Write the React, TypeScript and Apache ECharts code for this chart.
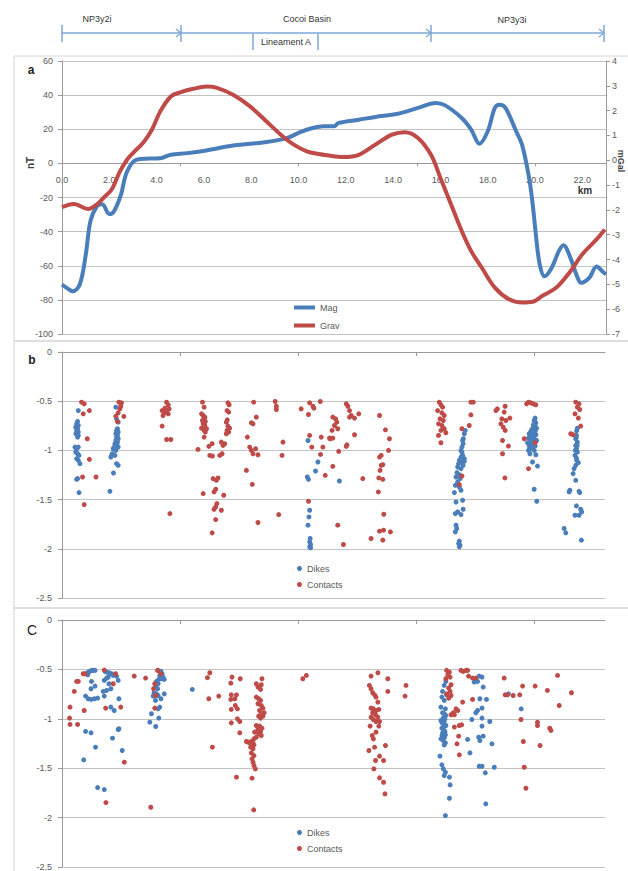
import React, { useEffect, useRef } from "react";
import * as echarts from "echarts";

// ---------- Panel a: profiles ----------
const magKm = [0, 0.2, 0.45, 0.75, 1.0, 1.2, 1.48, 1.7, 2.0, 2.2, 2.5, 2.7, 3.0, 3.3, 4.15, 4.6, 5.3, 6.1, 7.25, 8.65, 9.5, 10.1, 10.6, 11.05, 11.5, 11.7, 12.55, 13.25, 14.2, 15.05, 15.8, 16.2, 16.9, 17.3, 17.65, 18.0, 18.3, 18.5, 18.75, 19.2, 19.45, 19.75, 19.9, 20.05, 20.2, 20.4, 20.7, 21.0, 21.2, 21.5, 21.75, 21.95, 22.3, 22.6, 22.9, 23.0];
const magNT = [-71, -73, -75, -71, -54, -34, -25, -24, -29.7, -28, -18, -6.6, 0.8, 2.6, 3, 5.1, 6, 7.6, 10.5, 12.5, 14.8, 18.4, 20.7, 21.7, 21.7, 23.7, 25.6, 27.2, 29.1, 32.5, 35.4, 34, 26.6, 19.8, 11.5, 18.8, 32.5, 34.4, 32.5, 18.8, 11, -8.6, -24, -43.7, -59.4, -66.2, -61.3, -51.6, -48, -55.5, -65.2, -70, -67, -60.4, -64, -65];
const gravKm = [0, 0.5, 1.1, 1.5, 1.76, 2.1, 2.45, 2.75, 3.0, 3.45, 3.8, 4.15, 4.6, 5.0, 5.55, 6.1, 6.55, 7.25, 7.95, 8.65, 9.25, 9.8, 10.35, 10.85, 11.2, 11.9, 12.55, 13.25, 13.95, 14.5, 15.05, 15.6, 16.0, 16.45, 16.9, 17.3, 17.75, 18.3, 18.9, 19.45, 19.9, 20.3, 20.9, 21.45, 22.0, 22.6, 22.95];
const gravMGal = [-1.89, -1.76, -1.96, -1.76, -1.51, -1.18, -0.45, 0.02, 0.29, 0.73, 1.23, 1.96, 2.57, 2.74, 2.88, 2.97, 2.92, 2.63, 2.17, 1.56, 1.03, 0.63, 0.36, 0.25, 0.2, 0.13, 0.22, 0.63, 1.03, 1.13, 0.9, 0.22, -0.71, -1.78, -2.85, -3.66, -4.33, -5.13, -5.6, -5.73, -5.7, -5.47, -5.13, -4.53, -3.79, -3.19, -2.79];

const kmLabelsA = [0, 2, 4, 6, 8, 10, 12, 14, 16, 18, 20, 22];
const kmTicks = [0, 5, 10, 15, 20];

// ---------- Panel b: depth solutions ----------
const bDikes = [
  [0.69,-0.595],[0.66,-0.706],[0.62,-0.73],[0.69,-0.747],[0.58,-0.764],[0.66,-0.78],[0.62,-0.797],[0.69,-0.814],[0.59,-0.831],[0.69,-0.848],[0.66,-0.865],[0.55,-0.966],[0.62,-0.983],[0.69,-0.966],[0.58,-1.017],[0.66,-1.034],[0.72,-1.051],[0.62,-1.084],[0.69,-1.101],[0.76,-1.135],[0.66,-1.287],[0.62,-1.294],[0.72,-1.429],
  [2.28,-0.561],[2.31,-0.679],[2.38,-0.713],[2.35,-0.78],[2.31,-0.797],[2.38,-0.814],[2.28,-0.831],[2.35,-0.848],[2.31,-0.865],[2.38,-0.882],[2.28,-0.899],[2.35,-0.916],[2.24,-0.932],[2.33,-0.949],[2.21,-0.966],[2.38,-0.966],[2.17,-0.983],[2.28,-1.0],[2.13,-1.034],[2.24,-1.051],[2.07,-1.068],[2.31,-1.135],[2.38,-1.152],[2.18,-1.23],[2.03,-1.416],[2.1,-1.051],
  [10.42,-0.899],[10.84,-1.118],[10.74,-1.209],[10.39,-1.27],[10.44,-1.294],[10.49,-1.608],[10.46,-1.676],[10.42,-1.76],[10.51,-1.895],[10.49,-1.929],[10.53,-1.956],[10.49,-1.98],[10.53,-1.99],[11.75,-1.311],
  [17.08,-0.797],[17.04,-0.831],[16.97,-0.899],[16.99,-0.932],[16.94,-0.966],[16.9,-1.0],[16.97,-1.051],[16.9,-1.068],[17.04,-1.084],[16.83,-1.101],[16.94,-1.118],[16.8,-1.135],[16.99,-1.152],[16.76,-1.169],[16.9,-1.186],[16.73,-1.226],[16.83,-1.247],[16.69,-1.27],[16.86,-1.287],[16.76,-1.321],[16.66,-1.355],[16.83,-1.372],[16.9,-1.405],[16.62,-1.429],[16.97,-1.507],[16.69,-1.524],[16.99,-1.598],[16.76,-1.625],[16.66,-1.642],[16.9,-1.652],[16.69,-1.76],[16.72,-1.794],[16.66,-1.828],[16.83,-1.922],[16.8,-1.946],[16.86,-1.963],[16.83,-1.98],[17.0,-0.882],[16.94,-1.017],[17.04,-1.111],
  [20.04,-0.672],[20.0,-0.696],[20.07,-0.72],[19.96,-0.74],[20.04,-0.753],[19.93,-0.78],[20.1,-0.774],[19.86,-0.807],[20.0,-0.814],[19.79,-0.831],[20.07,-0.841],[19.9,-0.855],[19.76,-0.875],[20.0,-0.882],[19.86,-0.899],[20.1,-0.899],[19.72,-0.922],[19.96,-0.932],[19.79,-0.949],[20.04,-0.956],[19.86,-0.976],[19.76,-1.0],[20.0,-1.0],[19.82,-1.034],[20.07,-1.044],[19.93,-1.118],[20.14,-1.159],[20.0,-1.395],[20.11,-1.517],[20.02,-0.7],[19.98,-0.76],[19.9,-0.79],[20.05,-0.8],[19.95,-0.86],[19.85,-0.92],[19.92,-0.96],[19.8,-0.98],
  [21.83,-0.774],[21.79,-0.848],[21.76,-0.882],[21.83,-0.916],[21.76,-0.949],[21.79,-0.983],[21.83,-1.017],[21.73,-1.051],[21.79,-1.078],[21.87,-1.125],[21.76,-1.152],[21.69,-1.186],[21.65,-1.236],[21.76,-1.304],[21.51,-1.405],[21.48,-1.422],[21.9,-1.416],[21.93,-1.429],[21.79,-1.564],[21.97,-1.598],[21.73,-1.659],[21.9,-1.659],[22.01,-1.625],[21.27,-1.794],[21.34,-1.838],[22.0,-1.912],[21.8,-0.8],[21.78,-0.87],[21.82,-0.95],[21.74,-1.0],[21.8,-1.1]
];
const bContacts = [
  [0.83,-0.51],[0.94,-0.527],[0.9,-0.628],[1.16,-0.595],[1.07,-0.882],[1.16,-1.091],[0.87,-1.27],[1.44,-1.27],[0.94,-1.551],
  [2.41,-0.51],[2.52,-0.517],[2.49,-0.551],[2.45,-0.578],[2.38,-0.618],[2.62,-0.655],[2.28,-0.652],[2.35,-0.706],
  [4.43,-0.51],[4.5,-0.537],[4.36,-0.571],[4.54,-0.578],[4.24,-0.595],[4.43,-0.605],[4.33,-0.618],[4.5,-0.628],[4.28,-0.645],[4.24,-0.753],[4.43,-0.889],[4.61,-0.889],[4.57,-1.642],
  [5.95,-0.51],[6.02,-0.561],[5.91,-0.628],[5.98,-0.645],[6.05,-0.662],[6.02,-0.679],[5.95,-0.696],[6.07,-0.706],[5.98,-0.73],[6.05,-0.747],[5.91,-0.774],[6.12,-0.78],[6.02,-0.797],[6.07,-0.814],[6.02,-0.865],[5.76,-0.99],[6.22,-0.959],[6.36,-0.932],[6.26,-1.051],[6.37,-1.057],[6.68,-1.051],[6.78,-1.034],[6.82,-0.949],[6.89,-0.932],[6.75,-0.916],[6.4,-1.287],[6.54,-1.304],[6.61,-1.28],[6.51,-1.395],[6.44,-1.422],[5.98,-1.439],[6.85,-1.456],[6.56,-1.541],[6.51,-1.574],[6.44,-1.598],[6.75,-1.608],[6.51,-1.703],[6.36,-1.838],
  [7.03,-0.517],[7.08,-0.537],[6.99,-0.595],[7.06,-0.611],[7.0,-0.689],[6.96,-0.713],[7.03,-0.753],[7.1,-0.774],[6.99,-0.797],[7.06,-0.814],[6.96,-0.831],
  [8.12,-0.51],[8.23,-0.662],[8.02,-0.72],[8.09,-0.73],[7.85,-0.865],[7.95,-0.966],[8.02,-1.0],[8.2,-0.983],[8.09,-1.034],[8.3,-1.044],[7.81,-1.203],[8.06,-1.345],[8.3,-1.733],
  [9.03,-0.503],[9.08,-0.551],[9.08,-0.584],[9.36,-0.916],[9.32,-1.051],[9.18,-1.652],
  [10.13,-0.578],[10.49,-0.517],[10.63,-0.551],[10.67,-0.571],[10.94,-0.503],[10.44,-0.635],[10.49,-0.848],[10.98,-0.865],[10.58,-0.966],[11.05,-0.966],[10.95,-1.041],[11.33,-0.875],[11.15,-1.253],[10.44,-1.517],
  [11.47,-0.662],[11.59,-0.679],[11.64,-0.713],[11.54,-0.747],[11.44,-0.797],[11.68,-0.78],[11.36,-0.882],[11.47,-0.875],[12.04,-0.527],[12.11,-0.551],[12.18,-0.595],[12.25,-0.645],[12.18,-0.662],[12.39,-0.672],[12.57,-0.628],[12.39,-0.841],[12.07,-0.943],[12.04,-0.959],[11.72,-1.01],[11.47,-1.162],[12.74,-1.287],[11.68,-1.76],[11.92,-1.956],
  [13.45,-0.645],[13.7,-0.791],[13.87,-0.882],[13.83,-1.0],[13.52,-1.051],[13.45,-1.068],[13.59,-1.145],[13.52,-1.152],[13.47,-1.203],[13.42,-1.28],[13.59,-1.294],[13.4,-1.422],[13.63,-1.649],[13.45,-1.821],[13.62,-1.811],[13.91,-1.828],[13.59,-1.912],[13.09,-1.895],
  [15.98,-0.51],[16.05,-0.537],[16.12,-0.561],[15.91,-0.595],[16.09,-0.618],[16.19,-0.645],[16.01,-0.679],[16.15,-0.696],[15.95,-0.73],[16.09,-0.747],[16.19,-0.78],[16.05,-0.797],[16.26,-0.821],[15.95,-0.848],[16.05,-0.922],
  [17.32,-0.51],[17.42,-0.51],[17.32,-0.639],[17.25,-0.747],[16.94,-0.78],[16.94,-1.26],[16.83,-1.348],
  [18.38,-0.595],[18.44,-0.578],[18.77,-0.551],[18.73,-0.611],[18.63,-0.679],[18.8,-0.696],[18.97,-0.672],[18.59,-0.73],[18.69,-0.764],[18.77,-0.797],[18.66,-0.899],[18.91,-0.956],[18.66,-1.034],[18.76,-1.28],
  [19.76,-0.51],[19.86,-0.517],[19.96,-0.527],[20.07,-0.537],[19.68,-0.527],[19.58,-0.882],[19.76,-1.186],[20.04,-0.922],
  [21.76,-0.51],[21.9,-0.527],[21.83,-0.561],[21.93,-0.584],[21.73,-0.628],[21.87,-0.672],[21.97,-0.753],[21.55,-0.831],[21.65,-0.841]
];

// ---------- Panel c: depth solutions ----------
const cDikes = [
  [1.04,-0.544],[1.11,-0.527],[1.18,-0.52],[1.25,-0.51],[1.32,-0.51],[1.4,-0.51],[1.09,-0.554],[1.82,-0.52],[1.89,-0.527],[1.99,-0.534],[2.1,-0.544],[2.17,-0.561],[2.31,-0.568],[2.38,-0.611],[1.89,-0.588],[1.96,-0.578],[1.79,-0.611],[1.25,-0.622],[1.4,-0.669],[1.23,-0.696],[1.99,-0.645],[1.89,-0.713],[2.07,-0.696],[1.75,-0.723],[1.0,-0.77],[1.11,-0.797],[1.23,-0.804],[1.37,-0.797],[1.51,-0.791],[1.79,-0.77],[2.41,-0.797],[2.07,-0.882],[2.21,-0.916],[2.41,-1.101],[2.38,-1.108],[1.0,-1.128],[1.23,-1.142],[2.14,-1.196],[1.42,-1.287],[2.55,-1.321],[0.92,-1.416],[1.51,-1.696],[1.79,-1.716],
  [4.07,-0.51],[4.19,-0.52],[4.24,-0.544],[4.14,-0.561],[4.28,-0.578],[4.21,-0.595],[4.1,-0.601],[4.33,-0.601],[4.0,-0.622],[4.07,-0.645],[3.96,-0.679],[4.05,-0.696],[3.9,-0.736],[4.0,-0.747],[3.86,-0.77],[4.07,-0.764],[4.19,-0.797],[4.33,-0.747],[3.96,-0.814],[4.07,-0.899],[4.14,-0.882],[3.79,-0.949],[4.1,-0.993],[3.72,-1.034],[3.97,-1.078],
  [5.52,-0.703],
  [16.26,-0.622],[16.19,-0.662],[16.12,-0.723],[16.29,-0.757],[16.09,-0.78],[16.19,-0.814],[16.05,-0.882],[16.24,-0.899],[16.12,-0.939],[16.26,-0.966],[16.05,-1.017],[16.19,-1.027],[16.15,-1.051],[16.26,-1.068],[16.09,-1.095],[16.19,-1.118],[16.12,-1.142],[16.24,-1.162],[16.05,-1.203],[16.15,-1.22],[16.24,-1.243],[16.19,-1.264],[16.01,-1.378],[16.09,-1.466],[16.15,-1.507],[16.24,-1.541],[16.19,-1.574],[16.41,-1.591],[16.44,-1.669],[16.41,-1.804],[16.24,-1.98],[16.2,-0.95],[16.15,-0.99],[16.22,-1.0],[16.1,-1.04],[16.17,-1.08],[16.22,-1.13],[16.1,-1.17],[16.2,-1.19],
  [17.67,-0.568],[17.79,-0.578],[17.46,-0.628],[17.6,-0.622],[17.84,-0.679],[17.7,-0.797],[17.98,-0.804],[17.79,-0.892],[17.6,-0.916],[17.53,-0.939],[17.36,-1.007],[17.79,-0.993],[18.12,-1.027],[17.79,-1.074],[17.18,-1.209],[17.65,-1.186],[17.84,-1.176],[17.7,-1.22],[18.21,-1.253],[17.28,-1.345],[17.67,-1.48],[17.79,-1.48],[18.31,-1.49],[17.93,-1.547],[17.95,-1.861],[18.91,-0.747],[19.45,-0.899]
];
const cContacts = [
  [0.9,-0.544],[0.97,-0.544],[0.69,-0.622],[0.62,-0.622],[0.52,-0.723],[0.34,-0.882],[0.32,-0.993],[0.34,-1.057],[0.66,-1.057],[0.94,-0.916],[1.79,-0.507],[2.27,-0.544],[2.17,-0.645],[1.85,-0.892],[2.49,-0.882],[2.64,-1.439],[1.86,-1.848],
  [4.05,-0.51],[4.19,-0.544],[3.93,-0.645],[3.88,-0.696],[3.96,-0.764],[3.93,-0.892],[3.76,-1.895],[3.06,-0.568],[3.54,-0.588],
  [6.26,-0.534],[6.16,-0.584],[6.22,-0.797],[6.64,-0.77],[6.37,-1.287],[7.2,-0.578],[7.55,-0.595],[7.15,-0.639],[7.17,-0.757],[7.39,-0.757],[7.32,-0.797],[7.15,-0.804],[7.34,-0.865],[7.17,-0.905],[7.43,-0.899],[7.43,-1.0],[7.53,-1.027],[7.17,-1.041],[7.53,-1.142],[7.39,-1.591],
  [8.47,-0.595],[8.23,-0.645],[8.44,-0.655],[8.3,-0.679],[8.41,-0.703],[8.23,-0.78],[8.33,-0.797],[8.41,-0.814],[8.3,-0.848],[8.44,-0.865],[8.51,-0.892],[8.37,-0.916],[8.56,-0.939],[8.44,-0.959],[8.33,-0.973],[8.51,-0.973],[8.41,-0.993],[8.23,-1.068],[8.37,-1.074],[8.47,-1.095],[8.3,-1.108],[8.41,-1.128],[8.16,-1.135],[8.33,-1.152],[8.44,-1.169],[8.23,-1.186],[8.13,-1.203],[7.81,-1.23],[7.88,-1.236],[7.95,-1.243],[8.02,-1.23],[8.09,-1.243],[8.13,-1.264],[7.99,-1.287],[8.09,-1.304],[8.02,-1.345],[8.13,-1.372],[8.05,-1.405],[8.09,-1.439],[8.13,-1.473],[8.19,-1.507],[8.05,-1.601],[8.12,-1.922],
  [10.2,-0.595],[10.35,-0.561],
  [13.38,-0.534],[13.09,-0.568],[13.8,-0.595],[13.02,-0.662],[13.09,-0.696],[13.16,-0.736],[13.24,-0.757],[13.3,-0.78],[13.38,-0.831],[13.09,-0.892],[13.19,-0.899],[13.3,-0.916],[13.42,-0.905],[13.16,-0.939],[13.28,-0.959],[13.09,-0.983],[13.38,-0.983],[13.19,-1.007],[13.3,-1.027],[13.45,-1.027],[13.05,-1.074],[13.42,-1.074],[13.3,-1.135],[13.14,-1.169],[13.19,-1.203],[13.24,-1.287],[13.7,-1.27],[13.0,-1.321],[13.45,-1.378],[13.28,-1.422],[13.62,-1.422],[13.21,-1.507],[13.45,-1.598],[13.62,-1.642],[13.68,-1.76],[13.8,-0.723],[14.57,-0.662],[14.53,-0.77],
  [16.29,-0.51],[16.41,-0.527],[16.34,-0.554],[16.44,-0.578],[16.26,-0.595],[16.48,-0.655],[16.38,-0.689],[16.44,-0.723],[16.29,-0.747],[16.48,-0.764],[16.38,-0.791],[16.69,-0.899],[16.76,-0.916],[16.58,-0.939],[16.48,-0.959],[16.62,-0.959],[16.97,-0.831],[16.9,-0.51],[16.99,-0.52],[17.11,-0.51],[17.18,-0.51],[17.22,-0.568],[17.39,-0.588],[17.53,-0.588],[17.39,-0.804],[16.62,-1.084],[16.83,-1.068],[16.93,-1.061],[16.8,-1.176],[16.73,-1.253],[16.83,-1.365],
  [18.73,-0.588],[18.77,-0.757],[18.87,-0.757],[19.11,-0.764],[19.39,-0.757],[19.51,-0.669],[20.04,-0.669],[20.56,-0.713],[20.99,-0.561],[21.58,-0.736],[21.06,-0.865],[19.44,-1.007],[20.14,-1.034],[20.14,-1.068],[20.66,-1.095],[20.71,-1.118],[19.54,-1.23],[20.25,-1.27],[19.58,-1.49],[19.65,-1.703]
];

const BLUE = "#4a7ebb";
const RED = "#be4b48";
const AXIS = "#9a9a9a";
const GRIDC = "#c3c3c3";
const LBL = "#595959";
const FONT = "Liberation Sans, Arial, sans-serif";
const HDR = "#7ea7d8";

// panel a grid geometry (used to place the km axis on the zero line)
const A_TOP = 61;
const A_H = 273;
const A_YMIN = -100;
const A_YMAX = 60;

export default function App() {
  const ref = useRef<HTMLDivElement>(null);
  useEffect(() => {
    const chart = echarts.init(ref.current!, null, { renderer: "svg" });
    const lbl = { color: LBL, fontSize: 9, fontFamily: FONT };
    const zeroOffset = -(A_H * (0 - A_YMIN)) / (A_YMAX - A_YMIN);
    const depthY = (grid: number) => ({
      type: "value", gridIndex: grid, min: -2.5, max: 0, interval: 0.5,
      axisLine: { show: true, onZero: false, lineStyle: { color: AXIS } },
      axisTick: { show: true, length: 4, lineStyle: { color: AXIS } },
      axisLabel: { ...lbl, margin: 10 },
      splitLine: { show: true, lineStyle: { color: GRIDC, width: 1 } },
    });
    const kmX = (grid: number) => ({
      type: "value", gridIndex: grid, min: 0, max: 23,
      axisLine: { show: true, onZero: true, lineStyle: { color: AXIS } },
      axisTick: { show: true, length: 4, customValues: kmTicks, lineStyle: { color: AXIS } },
      axisLabel: { show: false },
      splitLine: { show: false },
    });
    const hLine = (x1: number, y1: number, x2: number, y2: number) => ({
      type: "line", shape: { x1, y1, x2, y2 }, style: { stroke: HDR, lineWidth: 1.5 },
    });
    const arrow = (x: number) => ({
      type: "polyline", shape: { points: [[x - 5, 29], [x, 33], [x - 5, 37]] },
      style: { stroke: HDR, lineWidth: 1.2, fill: null },
    });
    const txt = (text: string, x: number, y: number, font: string, fill = "#333", rotation = 0) => ({
      type: "text", x, y, rotation,
      style: { text, font, fill, textAlign: "center", verticalAlign: "middle" },
    });
    const option: any = {
      animation: false,
      backgroundColor: "#ffffff",
      grid: [
        { left: 62, top: A_TOP, width: 544, height: A_H, outerBoundsMode: "none", containLabel: false },
        { left: 62, top: 352, width: 543, height: 246, outerBoundsMode: "none", containLabel: false },
        { left: 62, top: 620, width: 543, height: 247, outerBoundsMode: "none", containLabel: false },
      ],
      xAxis: [
        {
          type: "value", gridIndex: 0, min: 0, max: 23, position: "bottom", offset: zeroOffset,
          axisLine: { show: true, onZero: false, lineStyle: { color: AXIS } },
          axisTick: { show: true, length: 3, customValues: kmTicks, lineStyle: { color: AXIS } },
          axisLabel: { ...lbl, margin: 12, customValues: kmLabelsA, formatter: (v: number) => v.toFixed(1) },
          splitLine: { show: false },
        },
        kmX(1),
        kmX(2),
      ],
      yAxis: [
        {
          type: "value", gridIndex: 0, min: A_YMIN, max: A_YMAX, interval: 20, position: "left",
          axisLine: { show: true, onZero: false, lineStyle: { color: AXIS } },
          axisTick: { show: true, length: 4, lineStyle: { color: AXIS } },
          axisLabel: { ...lbl, margin: 9 },
          splitLine: { show: true, lineStyle: { color: GRIDC, width: 1 } },
        },
        {
          type: "value", gridIndex: 0, min: -7, max: 4, interval: 1, position: "right",
          axisLine: { show: true, onZero: false, lineStyle: { color: AXIS } },
          axisTick: { show: true, length: 4, lineStyle: { color: AXIS } },
          axisLabel: { ...lbl, margin: 6 },
          splitLine: { show: false },
        },
        depthY(1),
        depthY(2),
      ],
      legend: [
        {
          data: ["Mag", "Grav"], orient: "vertical", left: 289, top: 298, itemGap: 9,
          icon: "rect", itemWidth: 21, itemHeight: 4,
          textStyle: { color: LBL, fontSize: 9, fontFamily: FONT },
          selectedMode: false,
        },
        {
          data: ["Dikes", "Contacts"], orient: "vertical", left: 292, top: 559, itemGap: 7,
          icon: "circle", itemWidth: 5, itemHeight: 5,
          textStyle: { color: LBL, fontSize: 9, fontFamily: FONT },
          selectedMode: false,
        },
        {
          data: ["Dikes", "Contacts"], orient: "vertical", left: 292, top: 823, itemGap: 7,
          icon: "circle", itemWidth: 5, itemHeight: 5,
          textStyle: { color: LBL, fontSize: 9, fontFamily: FONT },
          selectedMode: false,
        },
      ],
      series: [
        {
          name: "Mag", type: "line", xAxisIndex: 0, yAxisIndex: 0,
          data: magKm.map((k, i) => [k, magNT[i]]),
          showSymbol: false, smooth: 0.35, z: 3,
          lineStyle: { color: BLUE, width: 4 }, itemStyle: { color: BLUE },
        },
        {
          name: "Grav", type: "line", xAxisIndex: 0, yAxisIndex: 1,
          data: gravKm.map((k, i) => [k, gravMGal[i]]),
          showSymbol: false, smooth: 0.35, z: 4,
          lineStyle: { color: RED, width: 4 }, itemStyle: { color: RED },
        },
        { name: "Dikes", type: "scatter", xAxisIndex: 1, yAxisIndex: 2, data: bDikes, symbolSize: 5, itemStyle: { color: BLUE, opacity: 1 } },
        { name: "Contacts", type: "scatter", xAxisIndex: 1, yAxisIndex: 2, data: bContacts, symbolSize: 5, itemStyle: { color: RED, opacity: 1 } },
        { name: "Dikes", type: "scatter", xAxisIndex: 2, yAxisIndex: 3, data: cDikes, symbolSize: 5, itemStyle: { color: BLUE, opacity: 1 } },
        { name: "Contacts", type: "scatter", xAxisIndex: 2, yAxisIndex: 3, data: cContacts, symbolSize: 5, itemStyle: { color: RED, opacity: 1 } },
      ],
      graphic: [
        { type: "rect", shape: { x: 14, y: 56, width: 640, height: 285 }, style: { fill: null, stroke: "#d4d4d4", lineWidth: 1 }, silent: true, z: -1 },
        { type: "rect", shape: { x: 14, y: 341, width: 640, height: 267 }, style: { fill: null, stroke: "#d4d4d4", lineWidth: 1 }, silent: true, z: -1 },
        { type: "rect", shape: { x: 14, y: 608, width: 640, height: 280 }, style: { fill: null, stroke: "#d4d4d4", lineWidth: 1 }, silent: true, z: -1 },
        hLine(62, 33, 604, 33),
        hLine(62, 25, 62, 42),
        hLine(181, 25, 181, 42),
        hLine(431, 25, 431, 42),
        hLine(604, 25, 604, 42),
        hLine(253, 33, 253, 50),
        hLine(318, 33, 318, 50),
        arrow(181), arrow(431), arrow(604),
        txt("NP3y2i", 97, 19, `9px ${FONT}`),
        txt("Cocoi Basin", 307, 19, `9px ${FONT}`),
        txt("Lineament A", 286, 42, `9px ${FONT}`),
        txt("NP3y3i", 512, 20, `9px ${FONT}`),
        txt("a", 31, 70, `bold 12px ${FONT}`, "#222"),
        txt("b", 32, 360, `bold 12px ${FONT}`, "#222"),
        txt("C", 32, 630, `14px ${FONT}`, "#222"),
        txt("km", 585, 190, `bold 10px ${FONT}`, "#333"),
        txt("nT", 30, 163, `bold 10px ${FONT}`, "#404040", Math.PI / 2),
        txt("mGal", 621, 161, `bold 9px ${FONT}`, "#404040", -Math.PI / 2),
      ],
    };
    chart.setOption(option);
    return () => chart.dispose();
  }, []);
  return (
    <div
      ref={ref}
      style={{ position: "absolute", left: 0, top: 0, width: 628, height: 871, background: "#fff" }}
    />
  );
}
